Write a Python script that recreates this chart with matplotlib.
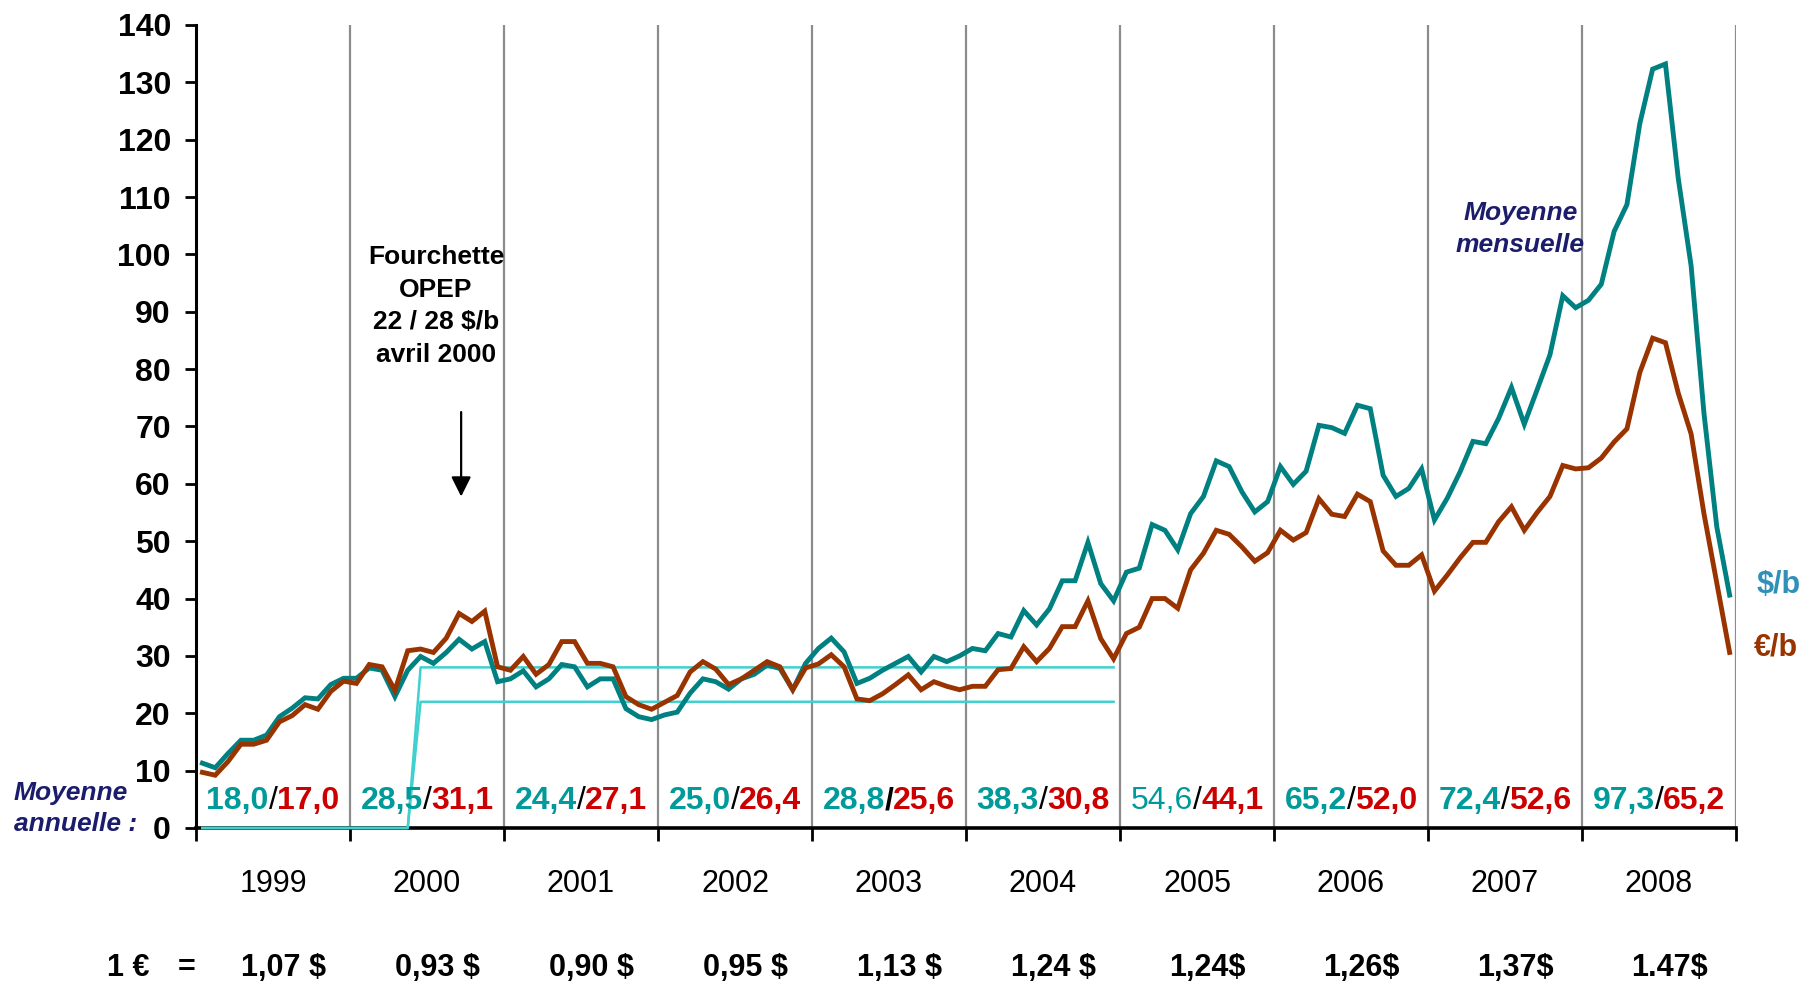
import numpy as np
import matplotlib
matplotlib.use("Agg")
import matplotlib.pyplot as plt
from matplotlib import font_manager

# ======================
# FONTS
# ======================
names = {f.name for f in font_manager.fontManager.ttflist}
NARROW = "Liberation Sans Narrow" if "Liberation Sans Narrow" in names else "Liberation Sans"
WIDE = "Liberation Sans"
plt.rcParams["font.family"] = [NARROW, "DejaVu Sans"]

# ======================
# DATA (monthly averages, Jan 1999 -> Dec 2008)
# ======================
years = [1999, 2000, 2001, 2002, 2003, 2004, 2005, 2006, 2007, 2008]

brent_usd = [
    11.3, 10.5, 13.0, 15.3, 15.3, 16.2, 19.4, 20.9, 22.7, 22.5, 25.0, 26.1,   # 1999
    26.1, 27.9, 27.5, 22.9, 27.5, 29.9, 28.7, 30.6, 32.9, 31.2, 32.5, 25.5,   # 2000
    26.0, 27.4, 24.6, 26.0, 28.5, 28.1, 24.6, 26.0, 26.0, 20.8, 19.4, 18.9,   # 2001
    19.7, 20.2, 23.5, 26.0, 25.5, 24.2, 26.0, 26.8, 28.4, 27.8, 24.1, 28.7,   # 2002
    31.3, 33.1, 30.7, 25.2, 26.1, 27.5, 28.7, 29.9, 27.2, 29.9, 29.0, 30.0,   # 2003
    31.3, 30.9, 33.9, 33.3, 37.9, 35.4, 38.2, 43.1, 43.1, 49.8, 42.6, 39.6,   # 2004
    44.6, 45.3, 52.9, 51.9, 48.5, 54.8, 57.8, 64.0, 63.0, 58.6, 55.1, 56.9,   # 2005
    63.0, 59.9, 62.2, 70.2, 69.8, 68.8, 73.7, 73.1, 61.5, 57.8, 59.2, 62.6,   # 2006
    53.7, 57.5, 62.1, 67.4, 67.0, 71.4, 76.8, 70.4, 76.4, 82.5, 92.8, 90.7,   # 2007
    92.0, 94.8, 104.0, 108.7, 122.8, 132.3, 133.2, 113.2, 98.0, 72.3, 52.5, 40.6,  # 2008
]

brent_eur = [
    9.7, 9.2, 11.6, 14.6, 14.6, 15.3, 18.5, 19.6, 21.5, 20.7, 23.8, 25.6,
    25.2, 28.5, 28.1, 24.0, 30.9, 31.2, 30.6, 33.1, 37.4, 36.0, 37.8, 28.1,
    27.5, 29.9, 26.8, 28.5, 32.5, 32.5, 28.7, 28.7, 28.1, 22.9, 21.5, 20.7,
    21.9, 23.1, 27.2, 29.0, 27.7, 25.0, 26.0, 27.5, 29.0, 28.1, 24.1, 27.9,
    28.6, 30.2, 28.1, 22.5, 22.2, 23.4, 25.0, 26.7, 24.1, 25.5, 24.7, 24.1,
    24.7, 24.7, 27.6, 27.8, 31.6, 29.0, 31.3, 35.1, 35.1, 39.6, 33.0, 29.5,
    33.9, 35.0, 40.0, 40.0, 38.3, 45.0, 47.9, 51.9, 51.2, 49.0, 46.5, 48.0,
    51.9, 50.2, 51.5, 57.4, 54.7, 54.3, 58.2, 56.9, 48.3, 45.8, 45.8, 47.6,
    41.3, 44.1, 47.1, 49.8, 49.8, 53.4, 56.0, 51.9, 55.0, 57.8, 63.2, 62.6,
    62.8, 64.5, 67.3, 69.6, 79.4, 85.4, 84.6, 75.8, 68.7, 54.8, 42.7, 30.6,
]

# OPEC price band (22 / 28 $/b), set in 2000, drawn until end 2004
opep_haut = [0] * 17 + [28] * 55
opep_bas = [0] * 17 + [22] * 55

moy_usd = ["18,0", "28,5", "24,4", "25,0", "28,8", "38,3", "54,6", "65,2", "72,4", "97,3"]
moy_eur = ["17,0", "31,1", "27,1", "26,4", "25,6", "30,8", "44,1", "52,0", "52,6", "65,2"]
taux = ["1,07 $", "0,93 $", "0,90 $", "0,95 $", "1,13 $", "1,24 $", "1,24$", "1,26$", "1,37$", "1.47$"]

# ======================
# COLOURS
# ======================
TEAL = "#008080"
BROWN = "#993300"
BAND = "#40D0D0"
TXT_TEAL = "#009A9A"
TXT_RED = "#CC0000"
NAVY = "#1C1C6C"
GRID = "#8C8C8C"

# ======================
# FIGURE
# ======================
fig = plt.figure(figsize=(18.08, 9.83), dpi=100)
ax = fig.add_axes([0.1084, 0.1577, 0.8518, 0.8169])

months = np.arange(len(brent_usd)) + 0.5
band_x = months[:len(opep_haut)]

for k in range(1, 11):
    ax.axvline(12 * k, color=GRID, lw=1.6, zorder=0)

ax.plot(band_x, opep_haut, color=BAND, lw=1.8, zorder=2.7, clip_on=False)
ax.plot(band_x, opep_bas, color=BAND, lw=1.8, zorder=2.7, clip_on=False)
ax.plot(months, brent_usd, color=TEAL, lw=3.5, zorder=3, solid_joinstyle="miter")
ax.plot(months, brent_eur, color=BROWN, lw=3.5, zorder=3, solid_joinstyle="miter")

ax.set_xlim(0, 120)
ax.set_ylim(0, 140)
ax.set_xticks(np.arange(0, 121, 12))
ax.set_xticklabels([])
ax.set_yticks(np.arange(0, 141, 10))
ax.tick_params(axis="x", direction="out", length=9, width=2)
ax.tick_params(axis="y", direction="out", length=8, width=2, pad=10, labelsize=23)
for lab in ax.get_yticklabels():
    lab.set_fontweight("bold")
for side in ("top", "right"):
    ax.spines[side].set_visible(False)
ax.spines["left"].set_linewidth(2.2)
ax.spines["bottom"].set_linewidth(2.6)

# year labels and exchange rates below the axis
for k, yr in enumerate(years):
    cx = 12 * k + 6
    ax.text(cx, -9.8, str(yr), ha="center", va="center", fontsize=22, clip_on=False)
    ax.text(cx + 0.8, -24.4, taux[k], ha="center", va="center", fontsize=22,
            fontweight="bold", clip_on=False)
ax.text(-5.3, -24.4, "1 €", ha="center", va="center", fontsize=22, fontweight="bold", clip_on=False)
ax.text(-0.7, -24.4, "=", ha="center", va="center", fontsize=22, fontweight="bold", clip_on=False)

# annual averages  $ / €
fs = 23
half = 0.13 * fs
for k in range(len(years)):
    cx = 12 * k + 6
    w_usd = "normal" if years[k] == 2005 else "bold"
    w_sl = "bold" if years[k] == 2003 else "normal"
    ax.annotate("/", (cx, 3.3), xytext=(0, 0), textcoords="offset points",
                ha="center", va="baseline", fontsize=fs, fontweight=w_sl, color="black")
    ax.annotate(moy_usd[k], (cx, 3.3), xytext=(-half, 0), textcoords="offset points",
                ha="right", va="baseline", fontsize=fs, fontweight=w_usd, color=TXT_TEAL)
    ax.annotate(moy_eur[k], (cx, 3.3), xytext=(half, 0), textcoords="offset points",
                ha="left", va="baseline", fontsize=fs, fontweight="bold", color=TXT_RED)

ax.text(-14.2, 6.1, "Moyenne", ha="left", va="center", fontsize=19, family=WIDE,
        style="italic", fontweight="bold", color=NAVY, clip_on=False)
ax.text(-14.2, 0.7, "annuelle :", ha="left", va="center", fontsize=19, family=WIDE,
        style="italic", fontweight="bold", color=NAVY, clip_on=False)

# annotations
ax.text(18.7, 91.0, "Fourchette\nOPEP\n22 / 28 $/b\navril 2000", ha="center", va="center",
        multialignment="center", fontsize=19, family=WIDE, fontweight="bold", linespacing=1.45)
ax.annotate("", xy=(20.66, 57.3), xytext=(20.66, 73.0),
            arrowprops=dict(arrowstyle="-|>", color="black", lw=1.6, mutation_scale=30))

ax.text(103.2, 104.45, "Moyenne\nmensuelle", ha="center", va="center", multialignment="center",
        fontsize=19, family=WIDE, style="italic", fontweight="bold", color=NAVY, linespacing=1.4)

ax.text(121.6, 42.4, "$/b", ha="left", va="center", fontsize=22, family=WIDE,
        fontweight="bold", color="#3090B8", clip_on=False)
ax.text(121.4, 31.4, "€/b", ha="left", va="center", fontsize=22, family=WIDE,
        fontweight="bold", color=BROWN, clip_on=False)

fig.savefig("out.png", dpi=100)
